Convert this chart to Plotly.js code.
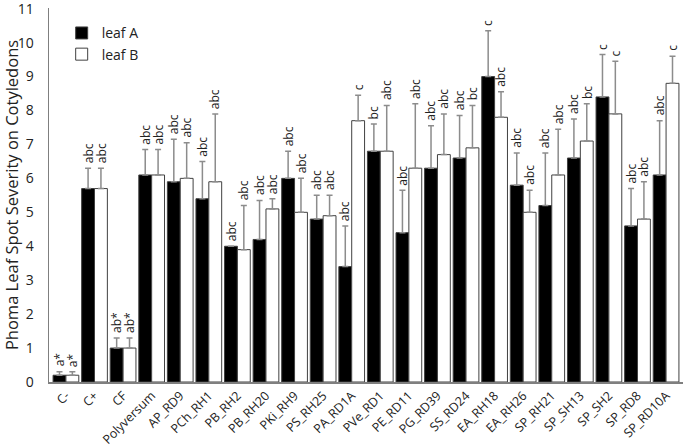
<!DOCTYPE html>
<html>
<head>
<meta charset="utf-8">
<script src="https://cdn.plot.ly/plotly-3.0.1.min.js"></script>
<style>html,body{margin:0;padding:0;background:#fff;}#chart{width:685px;height:447px;}</style>
</head>
<body>
<div id="chart"></div>
<script>
const categories = ['C-','C+','CF','Polyversum','AP_RD9','PCh_RH1','PB_RH2','PB_RH20','PKi_RH9','PS_RH25','PA_RD1A','PVe_RD1','PE_RD11','PG_RD39','SS_RD24','EA_RH18','EA_RH26','SP_RH21','SP_SH13','SP_SH2','SP_RD8','SP_RD10A'];
const leafA = [0.2, 5.7, 1.0, 6.1, 5.9, 5.4, 4.0, 4.2, 6.0, 4.8, 3.4, 6.8, 4.4, 6.3, 6.6, 9.0, 5.8, 5.2, 6.6, 8.4, 4.6, 6.1];
const leafB = [0.2, 5.7, 1.0, 6.1, 6.0, 5.9, 3.9, 5.1, 5.0, 4.9, 7.7, 6.8, 6.3, 6.7, 6.9, 7.8, 5.0, 6.1, 7.1, 7.9, 4.8, 8.8];
const errA = [0.1, 0.6, 0.3, 0.75, 1.25, 1.1, 0.0, 1.15, 0.8, 0.7, 1.2, 0.8, 1.25, 1.25, 1.25, 1.35, 0.95, 1.55, 1.15, 1.25, 1.1, 1.6];
const errB = [0.1, 0.6, 0.3, 0.75, 1.05, 2.0, 1.3, 0.3, 1.0, 0.6, 0.75, 1.35, 1.9, 1.2, 1.25, 0.75, 0.65, 1.35, 1.1, 1.55, 1.1, 0.8];
const lettersA = ['a*','abc','ab*','abc','abc','abc','abc','abc','abc','abc','abc','bc','abc','abc','abc','c','abc','abc','abc','c','abc','abc'];
const lettersB = ['a*','abc','ab*','abc','abc','abc','abc','abc','abc','abc','c','abc','abc','abc','bc','abc','abc','abc','bc','c','abc','c'];

const FONT = 'Open Sans, sans-serif';
const bargap = 0.1;
const half = (1 - bargap) / 4;

function errStyle(arr) {
  return {type: 'data', array: arr, arrayminus: arr.map(() => 0), symmetric: false,
          color: '#8c8c8c', thickness: 1.5, width: 3};
}

const traces = [
  {type: 'bar', name: 'leaf A', x: categories, y: leafA, error_y: errStyle(errA),
   marker: {color: '#000000', line: {color: '#404040', width: 1}}},
  {type: 'bar', name: 'leaf B', x: categories, y: leafB, error_y: errStyle(errB),
   marker: {color: '#ffffff', line: {color: '#404040', width: 1}}}
];

const annotations = [];
categories.forEach((c, i) => {
  annotations.push({x: i - half, y: leafA[i] + errA[i], xref: 'x', yref: 'y', text: lettersA[i],
    textangle: -90, showarrow: false, xanchor: 'center', yanchor: 'bottom', yshift: 3,
    font: {family: FONT, size: 12, color: '#222'}});
  annotations.push({x: i + half, y: leafB[i] + errB[i], xref: 'x', yref: 'y', text: lettersB[i],
    textangle: -90, showarrow: false, xanchor: 'center', yanchor: 'bottom', yshift: 3,
    font: {family: FONT, size: 12, color: '#222'}});
});

const layout = {
  width: 685, height: 447,
  margin: {l: 49, r: 2, t: 8, b: 65},
  paper_bgcolor: '#ffffff', plot_bgcolor: '#ffffff',
  barmode: 'group', bargap: bargap, bargroupgap: 0,
  font: {family: FONT, color: '#222'},
  showlegend: true,
  legend: {x: 0.02, y: 0.975, xanchor: 'left', yanchor: 'top', bgcolor: 'rgba(0,0,0,0)',
           font: {family: FONT, size: 14, color: '#222'}, itemwidth: 30},
  xaxis: {type: 'category', tickangle: -45, showline: true, linecolor: '#7f7f7f', linewidth: 1.5,
          ticks: '', showgrid: false, zeroline: false, tickfont: {family: FONT, size: 12.5, color: '#222'}},
  yaxis: {range: [0, 11.02], tickmode: 'linear', tick0: 0, dtick: 1, showline: true, linecolor: '#7f7f7f', linewidth: 1.5,
          ticks: '', showgrid: false, zeroline: false, ticklabelstandoff: 11, ticklabeloverflow: 'allow',
          tickfont: {family: FONT, size: 14, color: '#222'},
          title: {text: 'Phoma Leaf Spot Severity on Cotyledons', font: {family: FONT, size: 16.5, color: '#222'}, standoff: 6}},
  annotations: annotations
};

Plotly.newPlot('chart', traces, layout, {displayModeBar: false, staticPlot: true});
</script>
</body>
</html>
